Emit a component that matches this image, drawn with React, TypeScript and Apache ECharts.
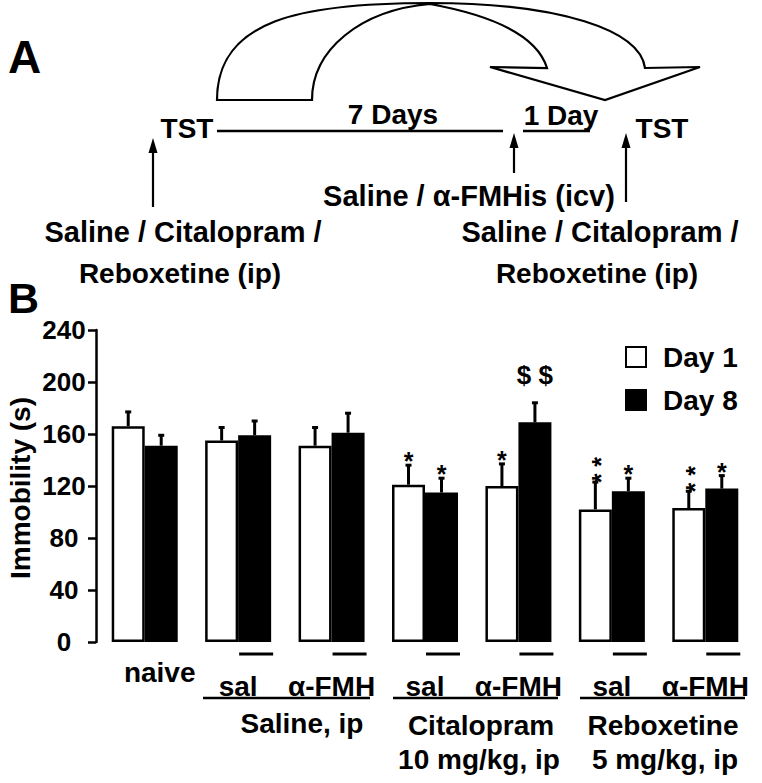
import React, { useEffect, useRef } from 'react';
import * as echarts from 'echarts';

// ---------- data ----------
const categories = ['naive', 'sal', 'α-FMH', 'sal', 'α-FMH', 'sal', 'α-FMH'];
const day1 = [166, 155, 151, 121, 120, 102, 103];
const day1Err = [11, 10, 14, 15, 17, 21, 13];
const day8 = [151, 159, 161, 115, 169, 116, 118];
const day8Err = [8, 11, 15, 11, 15, 10, 10];
const day1Marks = ['', '', '', '*', '*', '**', '**'];
const day8Marks = ['', '', '', '*', '$ $', '*', '*'];
const day8Underline = [0, 1, 1, 1, 1, 1, 1];
const seriesNames = ['Day 1', 'Day 8'];
const yMin = 0;
const yMax = 240;
const yInterval = 40;
const groupLabels = ['Saline, ip', 'Citalopram', '10 mg/kg, ip', 'Reboxetine', '5 mg/kg, ip'];

// ---------- style ----------
const FONT = '"Liberation Sans", Arial, Helvetica, sans-serif';
const BAR_W = 33;
const INK = '#000';

const ribbonD =
  'M217,100 C217,20 300,3 430,3 C560,3 640,30 645,68 L700,67 L605,100 L490,67 L547,68 C537,35 490,15 430,4 C360,10 312,50 312,100 Z';
echarts.graphic.registerShape('ribbonArrow', echarts.graphic.extendPath(ribbonD, {}));

const txt = (text: string, x: number, y: number, size: number, align = 'center', extra: any = {}) => ({
  type: 'text',
  x,
  y,
  ...extra,
  style: {
    text,
    fill: INK,
    font: `bold ${size}px ${FONT}`,
    align,
    verticalAlign: 'middle',
  },
});

const ln = (x1: number, y1: number, x2: number, y2: number, w = 2.5) => ({
  type: 'line',
  shape: { x1, y1, x2, y2 },
  style: { stroke: INK, lineWidth: w },
});

const upArrow = (x: number, yTip: number, yEnd: number) => [
  ln(x, yTip + 10, x, yEnd, 2.2),
  { type: 'polygon', shape: { points: [[x, yTip], [x - 4.5, yTip + 15], [x + 4.5, yTip + 15]] }, style: { fill: INK } },
];

const errSeries = (vals: number[], errs: number[], side: number) => ({
  type: 'custom',
  coordinateSystem: 'cartesian2d',
  silent: true,
  z: 5,
  data: vals.map((v, i) => [i, v, errs[i]]),
  encode: { x: 0, y: 1 },
  renderItem: (_p: any, api: any) => {
    const i = api.value(0);
    const v = api.value(1);
    const e = api.value(2);
    const p0 = api.coord([i, v]);
    const p1 = api.coord([i, v + e]);
    const x = p0[0] + (side * BAR_W) / 2;
    return {
      type: 'group',
      children: [
        { type: 'line', shape: { x1: x, y1: p0[1], x2: x, y2: p1[1] }, style: { stroke: INK, lineWidth: 3 } },
        { type: 'line', shape: { x1: x - 3, y1: p1[1], x2: x + 3, y2: p1[1] }, style: { stroke: INK, lineWidth: 3 } },
      ],
    };
  },
});

const STAR_SIZE = 25;

const markSeries = (vals: number[], errs: number[], marks: string[], side: number) => ({
  type: 'custom',
  coordinateSystem: 'cartesian2d',
  silent: true,
  z: 6,
  data: vals.map((v, i) => [i, v + errs[i]]),
  encode: { x: 0, y: 1 },
  renderItem: (p: any, api: any) => {
    const m = marks[p.dataIndex];
    if (!m) return null;
    const pt = api.coord([api.value(0), api.value(1)]);
    const x = pt[0] + (side * BAR_W) / 2;
    if (m === '*') {
      return {
        type: 'text',
        x,
        y: pt[1] - 4,
        style: { text: '*', fill: INK, font: `bold ${STAR_SIZE}px ${FONT}`, align: 'center', verticalAlign: 'middle' },
      };
    }
    if (m === '**') {
      // two stacked stars: one text line turned upright so both stars sit in a column
      return {
        type: 'text',
        x: x + STAR_SIZE * 0.23,
        y: pt[1] - 12,
        rotation: Math.PI / 2,
        style: { text: '* *', fill: INK, font: `bold ${STAR_SIZE}px ${FONT}`, align: 'center', verticalAlign: 'middle' },
      };
    }
    return {
      type: 'text',
      x,
      y: pt[1] - 28,
      style: { text: m, fill: INK, font: `bold 26px ${FONT}`, align: 'center', verticalAlign: 'middle' },
    };
  },
});

const underlineSeries = {
  type: 'custom',
  coordinateSystem: 'cartesian2d',
  silent: true,
  z: 4,
  data: day8Underline.map((f, i) => [i, 0, f]),
  encode: { x: 0, y: 1 },
  renderItem: (_p: any, api: any) => {
    if (!api.value(2)) return null;
    const pt = api.coord([api.value(0), 0]);
    return {
      type: 'line',
      shape: { x1: pt[0] + 1, y1: pt[1] + 12, x2: pt[0] + BAR_W + 2, y2: pt[1] + 12 },
      style: { stroke: INK, lineWidth: 3 },
    };
  },
};

export default function App() {
  const ref = useRef<HTMLDivElement>(null);
  useEffect(() => {
    if (!ref.current) return;
    const chart = echarts.init(ref.current, undefined, { renderer: 'svg' });
    const option: any = {
      animation: false,
      backgroundColor: '#fff',
      textStyle: { fontFamily: FONT },
      grid: { left: 98, top: 330, width: 654, height: 312, containLabel: false },
      legend: {
        data: seriesNames,
        orient: 'vertical',
        left: 625,
        top: 343,
        padding: 0,
        itemWidth: 20,
        itemHeight: 20,
        itemGap: 15,
        icon: 'rect',
        selectedMode: false,
        textStyle: { fontSize: 28, fontWeight: 'bold', fontFamily: FONT, color: INK, lineHeight: 20, padding: [0, 0, 0, 12] },
      },
      xAxis: {
        type: 'category',
        data: categories.map((c, i) =>
          i === 0 ? { value: c, textStyle: { verticalAlign: 'bottom', padding: [0, 0, 0, 30] } } : c
        ),
        axisLine: { show: false },
        axisTick: { show: false },
        axisLabel: {
          interval: 0,
          margin: 44,
          verticalAlign: 'middle',
          fontSize: 28,
          fontWeight: 'bold',
          fontFamily: FONT,
          color: INK,
        },
      },
      yAxis: {
        type: 'value',
        min: yMin,
        max: yMax,
        interval: yInterval,
        offset: 2,
        splitLine: { show: false },
        axisLine: { show: true, lineStyle: { color: INK, width: 2.5 } },
        axisTick: { show: true, length: 8, lineStyle: { color: INK, width: 2.5 } },
        axisLabel: { margin: 32, align: 'center', fontSize: 26, fontWeight: 'bold', fontFamily: FONT, color: INK },
      },
      series: [
        {
          name: seriesNames[0],
          type: 'bar',
          data: day1,
          barWidth: BAR_W,
          barGap: '0%',
          itemStyle: { color: '#fff', borderColor: INK, borderWidth: 2.5 },
        },
        {
          name: seriesNames[1],
          type: 'bar',
          data: day8,
          barWidth: BAR_W,
          barGap: '0%',
          itemStyle: { color: INK, borderColor: INK, borderWidth: 2.5 },
        },
        errSeries(day1, day1Err, -1),
        errSeries(day8, day8Err, 1),
        markSeries(day1, day1Err, day1Marks, -1),
        markSeries(day8, day8Err, day8Marks, 1),
        underlineSeries,
      ],
      graphic: [
        // panel letters
        txt('A', 8, 57, 46, 'left'),
        txt('B', 8, 298, 43, 'left'),
        // panel A diagram
        { type: 'ribbonArrow', x: 0, y: 0, style: { fill: 'none', stroke: INK, lineWidth: 2.2 } },
        ln(217, 131, 503, 131, 2.5),
        ln(523, 131, 590, 131, 2.5),
        ...upArrow(153, 138, 207),
        ...upArrow(514, 133, 173),
        ...upArrow(626, 133, 202),
        txt('TST', 187, 128, 28),
        txt('7 Days', 393, 114, 28),
        txt('1 Day', 561, 115, 28),
        txt('TST', 662, 128, 28),
        txt('Saline / α-FMHis (icv)', 469, 196, 29),
        txt('Saline / Citalopram /', 183, 232, 29),
        txt('Reboxetine (ip)', 180, 273, 28),
        txt('Saline / Citalopram /', 600, 232, 29),
        txt('Reboxetine (ip)', 597, 273, 28),
        // panel B extra labels
        txt('Immobility (s)', 20, 488, 28, 'center', { rotation: Math.PI / 2 }),
        ln(203, 698, 370, 698, 2.5),
        ln(393, 698, 558, 698, 2.5),
        ln(580, 698, 745, 698, 2.5),
        txt(groupLabels[0], 302, 723, 28),
        txt(groupLabels[1], 481, 725, 28),
        txt(groupLabels[2], 479, 759, 28),
        txt(groupLabels[3], 663, 725, 28),
        txt(groupLabels[4], 665, 759, 28),
      ],
    };
    chart.setOption(option);
    return () => chart.dispose();
  }, []);
  return <div ref={ref} style={{ position: 'absolute', left: 0, top: 0, width: 762, height: 783 }} />;
}
